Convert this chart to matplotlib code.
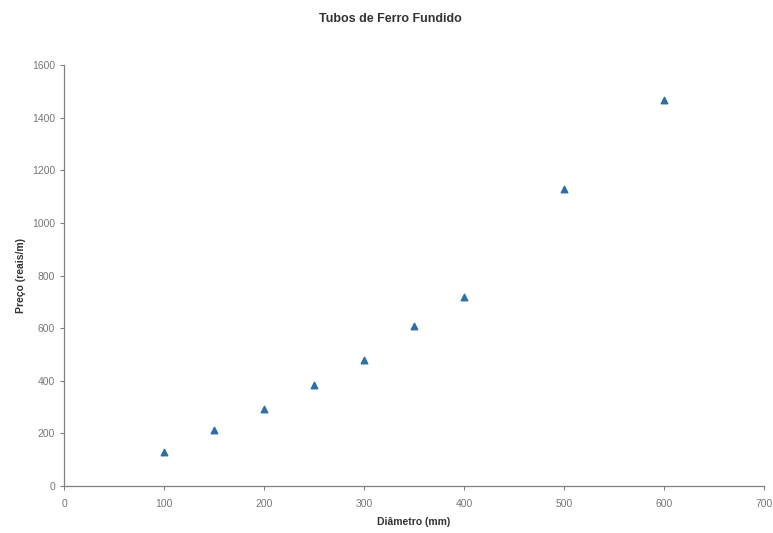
import matplotlib.pyplot as plt

plt.rcParams['font.family'] = ['Liberation Sans', 'DejaVu Sans']

# diâmetro nominal (mm) e preço por metro (reais/m)
diametros = [100, 150, 200, 250, 300, 350, 400, 500, 600]
precos = [130, 213, 293, 384, 479, 608, 719, 1129, 1468]

x_ticks = [0, 100, 200, 300, 400, 500, 600, 700]
y_ticks = [0, 200, 400, 600, 800, 1000, 1200, 1400, 1600]

fig = plt.figure(figsize=(7.73, 5.33), dpi=100)
ax = fig.add_axes([0.083, 0.088, 0.905, 0.79])

ax.scatter(diametros, precos, marker='^', s=22, color='#2f6ea6', zorder=3)

ax.set_xlim(0, 700)
ax.set_ylim(0, 1600)
ax.set_xticks(x_ticks)
ax.set_yticks(y_ticks)

for side in ('top', 'right'):
    ax.spines[side].set_visible(False)
for side in ('left', 'bottom'):
    ax.spines[side].set_color('#808080')
    ax.spines[side].set_linewidth(0.9)

ax.tick_params(axis='both', colors='#808080', labelcolor='#777777',
               labelsize=7.5, length=3, width=0.8)
ax.tick_params(axis='x', pad=6)

fig.suptitle('Tubos de Ferro Fundido', x=0.505, y=0.975, fontsize=9,
             fontweight='bold', color='#333333')
ax.set_xlabel('Diâmetro (mm)', fontsize=7.5, fontweight='bold', color='#333333',
              labelpad=6)
ax.set_ylabel('Preço (reais/m)', fontsize=7.5, fontweight='bold', color='#333333',
              labelpad=4)

fig.savefig('out.png', dpi=100)
